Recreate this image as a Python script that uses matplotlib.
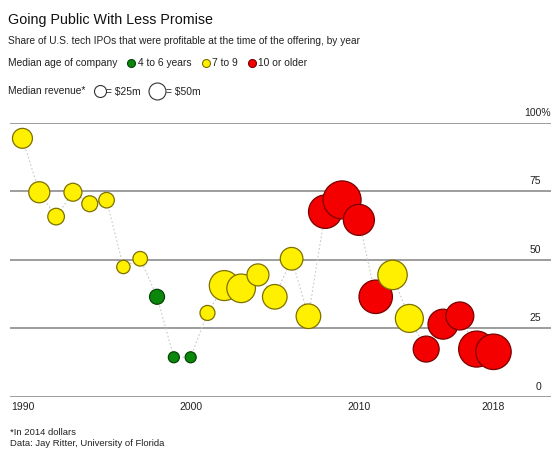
import numpy as np
import matplotlib
matplotlib.use('Agg')
import matplotlib.pyplot as plt

plt.rcParams['font.family'] = ['Liberation Sans', 'DejaVu Sans']

# data
years = list(range(1990, 2019))
share_profitable = [94.4, 74.7, 65.8, 74.7, 70.5, 71.8, 47.4, 50.4, 36.5, 14.4,
                    14.4, 30.6, 40.6, 39.6, 44.5, 36.5, 50.4, 29.4, 67.6, 71.9,
                    64.6, 36.5, 44.5, 28.6, 17.4, 26.5, 29.5, 17.4, 16.4]
median_revenue = [69, 77, 48, 56, 44, 42, 31, 37, 39, 21,
                  21, 39, 156, 142, 84, 105, 89, 105, 194, 251,
                  167, 194, 150, 136, 117, 156, 136, 225, 218]
age_group = ['7-9'] * 8 + ['4-6'] * 3 + ['7-9'] * 7 + ['10+'] * 4 + \
            ['7-9'] * 2 + ['10+'] * 5

age_labels = ['4 to 6 years', '7 to 9', '10 or older']
age_keys = ['4-6', '7-9', '10+']
fill = {'4-6': '#0b870b', '7-9': '#fff000', '10+': '#f40000'}
edge = {'4-6': '#064406', '7-9': '#7d7000', '10+': '#7a0000'}

y_ticks = [0, 25, 50, 75, 100]
y_tick_labels = ['0', '25', '50', '75', '100%']
x_ticks = [1990, 2000, 2010, 2018]

DPI = 100


def size_for(rev):
    # $25m -> 6 px radius, area proportional to revenue
    r_px = 6 * np.sqrt(np.asarray(rev) / 25.0)
    return (2 * r_px * 72 / DPI) ** 2


fig = plt.figure(figsize=(5.6, 4.54), dpi=DPI)
ax = fig.add_axes([10 / 560, 1 - 396.7 / 454, 541 / 560, (396.7 - 123) / 454])
ax.set_xlim(1989.26, 2021.42)
ax.set_ylim(0, 100)
for s in ax.spines.values():
    s.set_visible(False)
ax.set_yticks([])

for v, lab in zip(y_ticks, y_tick_labels):
    ax.axhline(v, color='#8c8c8c', lw=1.2, zorder=1)
    ax.text(2020.85 if v != 100 else 2021.4, v + 1.8, lab, ha='right', va='bottom',
            fontsize=7.5, color='#222222')

ax.set_xticks(x_ticks)
ax.set_xticklabels([str(x) for x in x_ticks], fontsize=7.5, color='#222222')
ax.tick_params(axis='x', length=0, pad=4)

ax.plot(years, share_profitable, ls=(0, (1.5, 2)), color='#c8c8c8', lw=0.8, zorder=2)
ax.scatter(years, share_profitable, s=size_for(median_revenue),
           c=[fill[a] for a in age_group], edgecolors=[edge[a] for a in age_group],
           linewidths=0.9, zorder=3, clip_on=False)

# overlay in pixel coordinates for the header / legend / notes
ov = fig.add_axes([0, 0, 1, 1], zorder=-1)
ov.set_xlim(0, 560)
ov.set_ylim(454, 0)
ov.axis('off')

ov.text(8, 20, 'Going Public With Less Promise', fontsize=10.3, va='center', color='#111111')
ov.text(8, 41, 'Share of U.S. tech IPOs that were profitable at the time of the offering, by year',
        fontsize=7.3, va='center', color='#222222')

ov.text(8, 63, 'Median age of company', fontsize=7.4, va='center', color='#222222')
leg_x = [131, 205.5, 252]
for x, k, lab in zip(leg_x, age_keys, age_labels):
    ov.scatter([x], [63], s=size_for(11), c=fill[k], edgecolors=edge[k], linewidths=0.8)
    ov.text(x + 6.5, 63, lab, fontsize=7.4, va='center', color='#222222')

ov.text(8, 91, 'Median revenue*', fontsize=7.4, va='center', color='#222222')
for x, rev in zip([99.5, 157], [25, 50]):
    ov.scatter([x], [91], s=size_for(rev), c='white', edgecolors='#333333', linewidths=0.8)
    ov.text(x + np.sqrt(rev / 25.0) * 6 + 0.5, 91.5, '= $%dm' % rev, fontsize=7.4,
            va='center', color='#222222')

ov.text(10, 432.5, '*In 2014 dollars', fontsize=6.8, va='center', color='#222222')
ov.text(10, 443.5, 'Data: Jay Ritter, University of Florida', fontsize=6.8, va='center',
        color='#222222')

fig.savefig('out.png', dpi=DPI)
